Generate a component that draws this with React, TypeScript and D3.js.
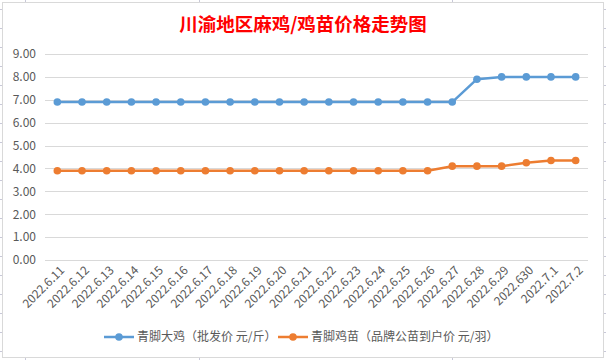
import React from "react";
import * as d3 from "d3";

const categories = ["2022.6.11","2022.6.12","2022.6.13","2022.6.14","2022.6.15","2022.6.16","2022.6.17","2022.6.18","2022.6.19","2022.6.20","2022.6.21","2022.6.22","2022.6.23","2022.6.24","2022.6.25","2022.6.26","2022.6.27","2022.6.28","2022.6.29","2022.630","2022.7.1","2022.7.2"];
const bigChicken = [6.9,6.9,6.9,6.9,6.9,6.9,6.9,6.9,6.9,6.9,6.9,6.9,6.9,6.9,6.9,6.9,6.9,7.9,8.0,8.0,8.0,8.0];
const chicks = [3.9,3.9,3.9,3.9,3.9,3.9,3.9,3.9,3.9,3.9,3.9,3.9,3.9,3.9,3.9,3.9,4.1,4.1,4.1,4.25,4.35,4.35];
const yTicks = [0,1,2,3,4,5,6,7,8,9];
const seriesNames = ["青脚大鸡（批发价 元/斤）","青脚鸡苗（品牌公苗到户价 元/羽）"];
const title = "川渝地区麻鸡/鸡苗价格走势图";

const W = 606, H = 360;
const FONT = "'Noto Sans CJK SC', 'Noto Sans', sans-serif";
const BLUE = "#5B9BD5", ORANGE = "#ED7D31";

export default function App() {
  const x = d3.scaleBand<string>().domain(categories).range([45, 588]);
  const cx = (c: string) => (x(c) as number) + x.bandwidth() / 2;
  const y = d3.scaleLinear().domain([0, 9]).range([260, 54]);
  const line = d3.line<number>().x((_, i) => cx(categories[i])).y((d) => y(d));
  const fmt = d3.format(".2f");
  const rows = d3.range(0, 19).map((k) => 9 + 19 * k);
  const cols = [25, 199, 452];
  const series = [
    { data: bigChicken, color: BLUE },
    { data: chicks, color: ORANGE },
  ];
  return (
    <svg width={W} height={H} style={{ position: "absolute", left: 0, top: 0 }} fontFamily={FONT}>
      <rect x={0} y={0} width={W} height={H} fill="#fff" />
      {rows.map((r) => (
        <g key={r}>
          <line x1={0} x2={2} y1={r + 0.5} y2={r + 0.5} stroke="#c8c8d8" />
          <line x1={604} x2={606} y1={r + 0.5} y2={r + 0.5} stroke="#c8c8d8" />
        </g>
      ))}
      {cols.map((c) => (
        <g key={c}>
          <line x1={c + 0.5} x2={c + 0.5} y1={0} y2={2} stroke="#c8c8d8" />
          <line x1={c + 0.5} x2={c + 0.5} y1={358} y2={360} stroke="#c8c8d8" />
        </g>
      ))}
      <rect x={2.5} y={2.5} width={601} height={355} fill="#fff" stroke="#d9d9d9" />
      <text x={303} y={31} textAnchor="middle" fontSize={18.5} fontWeight="bold" fill="#FF0000">{title}</text>
      {yTicks.map((t) => (
        <g key={t}>
          <line x1={45} x2={588} y1={Math.round(y(t)) + 0.5} y2={Math.round(y(t)) + 0.5} stroke="#d9d9d9" />
          <text x={36} y={y(t)} dy="0.36em" textAnchor="end" fontSize={12} fill="#595959">{fmt(t)}</text>
        </g>
      ))}
      {categories.map((c) => (
        <text key={c} transform={`translate(${cx(c) + 5},${268}) rotate(-45)`} textAnchor="end" fontSize={12} fill="#595959" dy="0.35em">{c}</text>
      ))}
      {series.map((s, si) => (
        <g key={si}>
          <path d={line(s.data) as string} fill="none" stroke={s.color} strokeWidth={2.5} strokeLinejoin="round" />
          {s.data.map((v, i) => (
            <circle key={i} cx={cx(categories[i])} cy={y(v)} r={3.8} fill={s.color} />
          ))}
        </g>
      ))}
      {[{ x0: 104, color: BLUE, name: seriesNames[0] }, { x0: 278, color: ORANGE, name: seriesNames[1] }].map((l) => (
        <g key={l.name}>
          <line x1={l.x0} x2={l.x0 + 30} y1={337} y2={337} stroke={l.color} strokeWidth={2.5} />
          <circle cx={l.x0 + 15} cy={337} r={3.8} fill={l.color} />
          <text x={l.x0 + 33} y={337} dy="0.36em" fontSize={12} fill="#595959">{l.name}</text>
        </g>
      ))}
    </svg>
  );
}
